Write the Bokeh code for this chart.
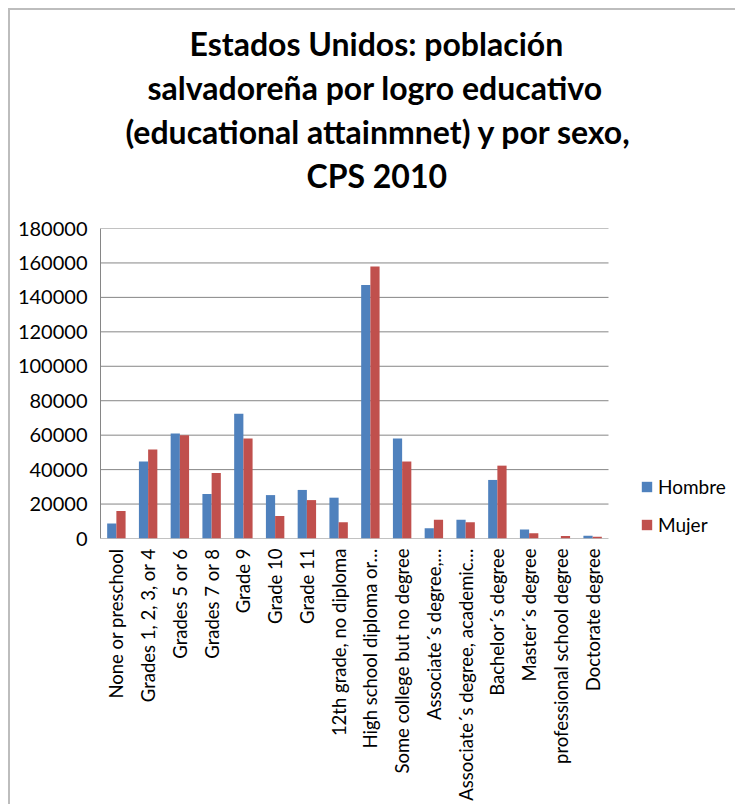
from bokeh.plotting import figure
from bokeh.models import (ColumnDataSource, FixedTicker, NumeralTickFormatter,
                          Legend, LegendItem, Title, Range1d)
from bokeh.transform import dodge
from bokeh.embed import file_html
from bokeh.resources import INLINE

categories = [
    "None or preschool", "Grades 1, 2, 3, or 4", "Grades 5 or 6", "Grades 7 or 8",
    "Grade 9", "Grade 10", "Grade 11", "12th grade, no diploma",
    "High school diploma or…", "Some college but no degree", "Associate´s degree,…",
    "Associate´s degree, academic…", "Bachelor´s degree", "Master´s degree",
    "professional school degree", "Doctorate degree",
]
hombre = [8700, 44700, 61000, 25800, 72400, 25200, 28200, 23700,
          147200, 58100, 6000, 10900, 34000, 5200, 0, 1600]
mujer = [15900, 51700, 60000, 38100, 58100, 13000, 22300, 9500,
         157900, 44700, 10900, 9500, 42300, 3100, 1400, 1000]
y_ticks = [0, 20000, 40000, 60000, 80000, 100000, 120000, 140000, 160000, 180000]
title_lines = ["Estados Unidos: población", "salvadoreña por logro educativo",
               "(educational attainmnet) y por sexo,", "CPS 2010"]
title_offsets = [89, 47, 25, 206]

n = len(categories)
idx = list(range(n))
src = ColumnDataSource(dict(idx=idx, hombre=hombre, mujer=mujer))
grid_src = ColumnDataSource(dict(x0=[-0.5] * len(y_ticks), x1=[n - 0.5] * len(y_ticks),
                                 y=y_ticks))

W, H = 727, 796
BL, BB = 90, 268
px_per_cat = 31.75
x_end = -0.5 + (W - BL) / px_per_cat

p = figure(width=W, height=H, output_backend="svg", toolbar_location=None,
           x_range=Range1d(-0.5, x_end), y_range=Range1d(0, 180000),
           min_border_left=BL, min_border_right=0, min_border_top=218,
           min_border_bottom=BB)

GRID = "#868686"
BLUE = "#4F81BD"
RED = "#C0504D"

p.segment(x0="x0", x1="x1", y0="y", y1="y", source=grid_src,
          line_color=GRID, line_width=1)

r1 = p.vbar(x=dodge("idx", -0.145, range=p.x_range), top="hombre", width=0.29,
            source=src, fill_color=BLUE, line_color=None)
r2 = p.vbar(x=dodge("idx", 0.145, range=p.x_range), top="mujer", width=0.29,
            source=src, fill_color=RED, line_color=None)

# spacer between the title block and the plot frame
p.add_layout(Title(text=" ", text_font_size="1px", standoff=29), "above")
# title lines (added nearest-first)
for t, off in zip(reversed(title_lines), reversed(title_offsets)):
    p.add_layout(Title(text=t, align="left", text_font="Lato", text_font_style="bold",
                       text_font_size="32px", text_color="#000000", offset=off,
                       standoff=3), "above")

p.xgrid.grid_line_color = None
p.ygrid.grid_line_color = None
p.outline_line_color = None

ya = p.yaxis[0]
ya.ticker = FixedTicker(ticks=y_ticks)
ya.formatter = NumeralTickFormatter(format="0")
ya.axis_line_color = GRID
ya.major_tick_line_color = None
ya.minor_tick_line_color = None
ya.major_label_standoff = 7
ya.major_label_text_font = "Lato"
ya.major_label_text_font_size = "20px"
ya.major_label_text_color = "#000000"

xa = p.xaxis[0]
xa.ticker = FixedTicker(ticks=idx)
xa.major_label_overrides = {i: c for i, c in enumerate(categories)}
xa.major_label_orientation = 3.14159265 / 2
xa.axis_line_color = None
xa.major_tick_line_color = None
xa.minor_tick_line_color = None
xa.major_label_standoff = 4
xa.major_label_text_font = "Lato"
xa.major_label_text_font_size = "18.5px"
xa.major_label_text_color = "#000000"

legend = Legend(items=[LegendItem(label="Hombre", renderers=[r1]),
                       LegendItem(label="Mujer", renderers=[r2])],
                location=(540, 2), glyph_width=13, glyph_height=13, label_height=20,
                spacing=15, padding=0, margin=0, border_line_color=None,
                background_fill_alpha=0,
                label_text_font="Lato", label_text_font_size="19px",
                label_standoff=5, label_text_color="#000000")
p.add_layout(legend, "center")

p.styles = {"margin-left": "8px", "margin-top": "8px",
            "border-left": "2px solid #bdbdbd", "border-top": "2px solid #bdbdbd"}

open("out.html", "w").write(file_html(p, INLINE))
